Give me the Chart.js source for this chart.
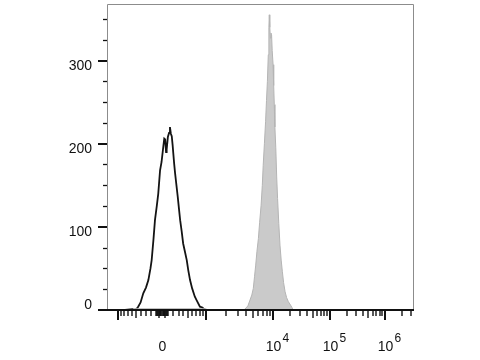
<!DOCTYPE html>
<html>
<head>
<meta charset="utf-8">
<script src="https://cdn.jsdelivr.net/npm/chart.js@4"></script>
<style>
  html, body { margin: 0; padding: 0; background: #fff; }
  #wrap { width: 480px; height: 360px; }
</style>
</head>
<body>
<div id="wrap"><canvas id="hist" width="480" height="360"></canvas></div>
<script>
// ===== data (x in display channels 0..1024, y in counts) =====
const blackCh = [0, 60, 85, 93, 100, 104, 112, 121, 130, 138, 145, 149, 155, 160, 166, 171, 177, 182, 188, 191, 194, 197, 199, 203, 207, 210, 213, 216, 219, 221, 224, 227, 231, 236, 240, 244, 249, 254, 260, 266, 271, 277, 284, 293, 300, 310, 318, 327, 1024];
const blackCount = [0, 0, 1, 0, 2, 4, 9, 20, 27, 36, 50, 60, 85, 108, 125, 140, 168, 178, 197, 206, 205, 190, 193, 208, 213, 220, 212, 209, 198, 189, 176, 165, 152, 136, 122, 108, 95, 80, 70, 60, 48, 36, 26, 16, 11, 4, 3, 0, 0];

const grayCh = [0, 85, 90, 330, 335, 455, 460, 470, 477, 483, 488, 492, 496, 500, 505, 509, 514, 518, 521, 525, 529, 532, 535, 538, 540, 541.3, 543, 545, 547, 549, 551, 554, 556, 558, 560, 563, 566, 569, 573, 577, 581, 585, 589, 594, 599, 605, 612, 617, 621, 1024];
const grayCount = [0, 0, 1.5, 1.5, 0, 0, 1, 5, 12, 18, 26, 40, 54, 70, 86, 105, 126, 150, 174, 200, 227, 252, 275, 307, 340, 355, 340, 327, 333, 331, 312, 295, 270, 247, 220, 195, 160, 134, 104, 78, 60, 46, 33, 22, 15, 10, 6, 3, 0, 0];

// y axis
const yMax = 368;
const yLabelValues = [0, 100, 200, 300];
const yMinorValues = [25, 50, 75, 125, 150, 175, 225, 250, 275, 325, 350];

// x axis (biexponential display: value -> channel)
const anchorValues = [1e3, 1e4, 1e5, 1e6, 1e7];
const anchorChannels = [330.2, 553.7, 743.8, 927.3, 1110.8];
const zeroChannel = 183.5;
const xLabelValues = [0, 1e4, 1e5, 1e6];
const xLabelBase = ['0', '10', '10', '10'];
const xLabelExp = ['', '4', '5', '6'];
const xMajorValues = [-1e3, 1e3, 1e4, 1e5, 1e6];

function toChannel(v) {
  const s = Math.sign(v), a = Math.abs(v);
  if (a <= 1000) return zeroChannel + s * 114.3 * Math.asinh(a / 600);
  const L = Math.log10(a);
  let i = Math.min(Math.floor(L) - 3, anchorValues.length - 2);
  const f = L - Math.log10(anchorValues[i]);
  const off = anchorChannels[i] + f * (anchorChannels[i + 1] - anchorChannels[i]) - zeroChannel;
  return zeroChannel + s * off;
}

// minor ticks: 10..90, 100..900 both sides, 2..9 x 10^k above
const xMinor = [];
[10, 100].forEach(step => {
  for (let k = 1; k <= 9; k++) { xMinor.push(k * step); xMinor.push(-k * step); }
});
[1e3, 1e4, 1e5, 1e6].forEach(d => { for (let k = 2; k <= 9; k++) xMinor.push(k * d); });

const FONT = '"Liberation Sans", Arial, Helvetica, sans-serif';

// ===== axes / frame drawn by hand =====
const flowAxes = {
  id: 'flowAxes',
  afterDatasetsDraw(chart) {
    const { ctx, chartArea: a, scales: { x, y } } = chart;
    ctx.save();

    // frame
    ctx.strokeStyle = '#8c8c8c'; ctx.lineWidth = 1;
    ctx.beginPath();
    ctx.moveTo(a.left + 0.5, a.bottom);
    ctx.lineTo(a.left + 0.5, a.top + 0.5);
    ctx.lineTo(a.right - 0.5, a.top + 0.5);
    ctx.lineTo(a.right - 0.5, a.bottom);
    ctx.stroke();

    ctx.strokeStyle = '#111';
    ctx.lineWidth = 2;
    ctx.beginPath(); ctx.moveTo(a.left, a.bottom); ctx.lineTo(a.right, a.bottom); ctx.stroke();

    // y ticks
    yLabelValues.forEach(v => {
      const py = Math.round(y.getPixelForValue(v));
      ctx.lineWidth = 2;
      ctx.beginPath(); ctx.moveTo(a.left - 9, py); ctx.lineTo(a.left, py); ctx.stroke();
    });
    yMinorValues.forEach(v => {
      const py = Math.round(y.getPixelForValue(v)) + 0.5;
      ctx.lineWidth = 1.3;
      ctx.beginPath(); ctx.moveTo(a.left - 4, py); ctx.lineTo(a.left, py); ctx.stroke();
    });
    ctx.fillStyle = '#111';
    ctx.font = '14px ' + FONT;
    ctx.textAlign = 'right'; ctx.textBaseline = 'middle';
    yLabelValues.forEach(v => {
      const py = y.getPixelForValue(v);
      ctx.fillText(String(v), a.left - 15, py + (v === 0 ? -4.5 : 5.5));
    });

    // x ticks
    const tick = (v, len, w) => {
      const px = Math.round(x.getPixelForValue(toChannel(v)));
      if (px < a.left || px > a.right) return;
      ctx.lineWidth = w;
      ctx.beginPath(); ctx.moveTo(px, a.bottom); ctx.lineTo(px, a.bottom + len); ctx.stroke();
    };
    xMinor.forEach(v => {
      const m = Math.abs(v) / Math.pow(10, Math.floor(Math.log10(Math.abs(v))));
      tick(v, m === 5 ? 8 : 6, 1.4);
    });
    xMajorValues.forEach(v => tick(v, 10, 2));

    // x labels
    xLabelValues.forEach((v, i) => {
      const px = x.getPixelForValue(toChannel(v));
      ctx.font = '14px ' + FONT;
      ctx.textAlign = 'center'; ctx.textBaseline = 'middle';
      ctx.fillText(xLabelBase[i], px + 0.5, a.bottom + 37.5);
      if (xLabelExp[i]) {
        ctx.font = '12px ' + FONT;
        ctx.textAlign = 'left';
        ctx.fillText(xLabelExp[i], px + 9.5, a.bottom + 28.5);
      }
    });
    ctx.restore();
  }
};

// ===== chart =====
const ctx = document.getElementById('hist').getContext('2d');
new Chart(ctx, {
  type: 'line',
  data: {
    datasets: [
      {
        label: 'stained',
        data: grayCh.map((c, i) => ({ x: c, y: grayCount[i] })),
        borderColor: '#b4b4b4',
        backgroundColor: '#cacaca',
        borderWidth: 1,
        fill: 'origin',
        pointRadius: 0,
        tension: 0
      },
      {
        label: 'control',
        data: blackCh.map((c, i) => ({ x: c, y: blackCount[i] })),
        borderColor: '#141414',
        borderWidth: 1.8,
        fill: false,
        pointRadius: 0,
        tension: 0
      }
    ]
  },
  options: {
    responsive: false,
    animation: false,
    events: [],
    layout: { padding: { left: 107, top: 4, right: 66, bottom: 50 } },
    plugins: { legend: { display: false }, tooltip: { enabled: false } },
    scales: {
      x: { type: 'linear', min: 0, max: 1024, display: false },
      y: { min: 0, max: yMax, display: false }
    }
  },
  plugins: [flowAxes]
});
</script>
</body>
</html>
